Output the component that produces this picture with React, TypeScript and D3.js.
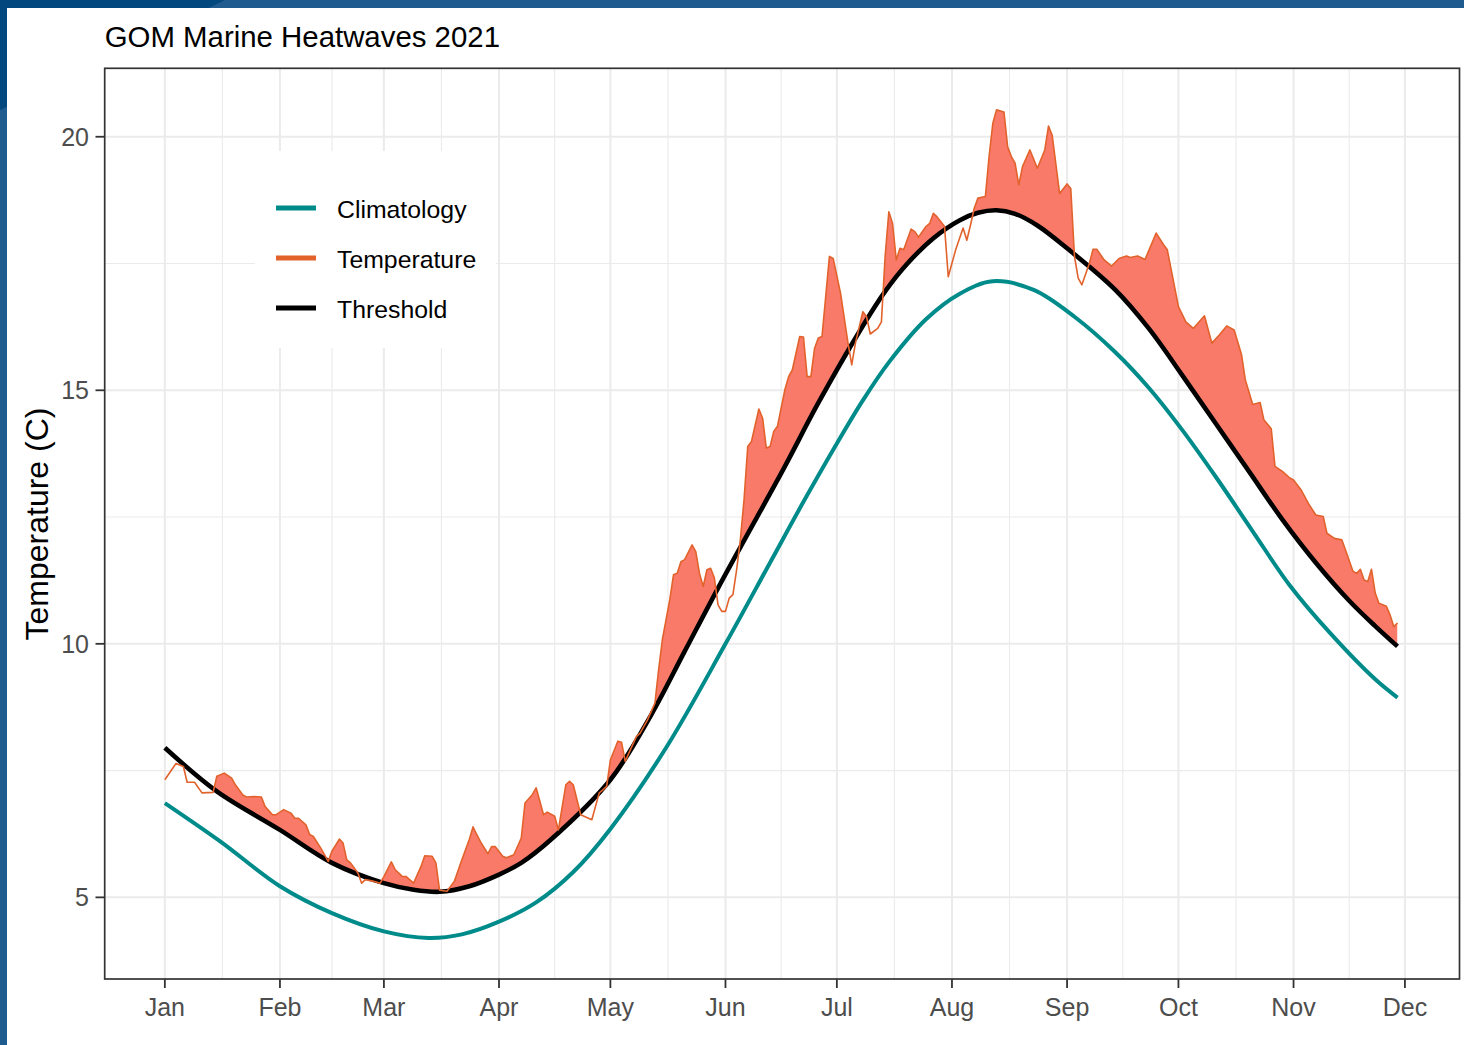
import React from 'react';
import * as d3 from 'd3';

const WIDTH = 1464;
const HEIGHT = 1045;
const FONT = "'Liberation Sans', Arial, Helvetica, sans-serif";

const title = 'GOM Marine Heatwaves 2021';
const yLabel = 'Temperature (C)';

// observed temperature, days after 1 Jan 2021
const tempDays = [
  0, 3, 5, 6, 8, 10, 13, 14, 16, 18, 19, 21, 22, 24, 26, 27, 29, 30, 32, 34, 35, 36, 38, 39, 40, 42, 44, 45, 47, 48,
  49, 50, 52, 53, 54, 56, 58, 59, 61, 62, 64, 65, 67, 69, 70, 72, 73, 74, 76, 78, 80, 82, 83, 84, 85, 87, 88, 89, 91, 92,
  94, 96, 97, 99, 100, 102, 103, 105, 106, 108, 109, 110, 112, 115, 117, 118, 119, 120, 122, 123, 124, 125, 127, 128, 130, 132, 133, 134, 136, 137,
  138, 139, 140, 142, 143, 144, 145, 146, 147, 148, 149, 150, 151, 152, 153, 154, 155, 156, 157, 158, 160, 161, 162, 163, 164, 165, 167, 168, 169, 171,
  172, 173, 174, 175, 176, 177, 179, 180, 182, 184, 185, 186, 188, 189, 190, 192, 193, 194, 195, 196, 197, 198, 199, 201, 202, 203, 205, 206, 207, 208,
  210, 211, 213, 215, 216, 217, 218, 219, 221, 222, 223, 224, 226, 227, 228, 229, 230, 231, 233, 235, 237, 238, 239, 241, 243, 244, 245, 246, 247, 249,
  250, 251, 253, 255, 257, 259, 260, 262, 264, 267, 269, 270, 273, 275, 277, 280, 282, 284, 286, 288, 290, 291, 293, 295, 296, 298, 299, 301, 303, 304,
  306, 308, 310, 312, 313, 315, 317, 318, 320, 321, 322, 323, 324, 325, 326, 327, 329, 330, 331, 332,
];
const tempValues = [
  7.32, 7.64, 7.58, 7.27, 7.27, 7.06, 7.07, 7.39, 7.45, 7.35, 7.22, 7.02, 6.98, 6.99, 6.98, 6.79, 6.63, 6.63, 6.73, 6.66, 6.56, 6.56, 6.43, 6.24, 6.2, 5.97, 5.71, 5.91, 6.15, 6.07,
  5.74, 5.68, 5.48, 5.28, 5.35, 5.32, 5.28, 5.41, 5.7, 5.55, 5.41, 5.41, 5.28, 5.61, 5.82, 5.81, 5.68, 5.14, 5.12, 5.32, 5.74, 6.14, 6.39, 6.24, 6.1, 5.86, 6.0, 6.0, 5.81, 5.78,
  5.84, 6.17, 6.86, 7.03, 7.16, 6.63, 6.68, 6.6, 6.33, 7.22, 7.29, 7.22, 6.63, 6.53, 7.06, 7.12, 7.19, 7.71, 8.08, 8.06, 7.68, 7.85, 8.17, 8.24, 8.5, 8.83, 9.49, 10.08, 10.87, 11.36,
  11.39, 11.62, 11.66, 11.95, 11.82, 11.39, 11.13, 11.46, 11.49, 11.3, 10.77, 10.64, 10.64, 10.9, 10.97, 11.46, 12.05, 12.84, 13.89, 13.99, 14.63, 14.45, 13.86, 13.89, 14.19, 14.29, 15.01, 15.27, 15.4, 16.06,
  16.05, 15.27, 15.27, 15.83, 16.03, 16.06, 17.64, 17.6, 16.91, 15.93, 15.5, 15.93, 16.55, 16.45, 16.11, 16.22, 16.35, 17.64, 18.52, 18.29, 17.57, 17.8, 17.77, 18.18, 18.13, 18.02, 18.23, 18.29, 18.49, 18.42,
  18.23, 17.24, 17.77, 18.2, 17.96, 18.26, 18.59, 18.79, 18.82, 19.61, 20.26, 20.53, 20.49, 19.8, 19.61, 19.48, 19.05, 19.41, 19.74, 19.38, 19.74, 20.21, 20.03, 18.88, 19.07, 18.98, 17.64, 17.21, 17.08, 17.5,
  17.78, 17.78, 17.57, 17.45, 17.6, 17.65, 17.62, 17.65, 17.58, 18.1, 17.87, 17.77, 16.65, 16.35, 16.22, 16.47, 15.93, 16.09, 16.27, 16.19, 15.7, 15.21, 14.72, 14.76, 14.42, 14.24, 13.5, 13.4, 13.27, 13.23,
  13.04, 12.77, 12.54, 12.51, 12.18, 12.08, 12.05, 11.85, 11.43, 11.39, 11.47, 11.26, 11.23, 11.47, 11.0, 10.8, 10.74, 10.57, 10.34, 10.41,
];

// 90th percentile threshold
const threshDays = [0, 14, 31, 45, 59, 67, 74, 82, 90, 96, 104, 120, 131, 140, 149, 158, 167, 176, 187, 194, 200, 207, 214, 219, 224, 229, 235, 243, 256, 265, 274, 283, 292, 301, 310, 319, 326, 332];
const threshValues = [7.95, 7.09, 6.33, 5.68, 5.28, 5.15, 5.11, 5.22, 5.45, 5.68, 6.14, 7.32, 8.6, 9.85, 11.1, 12.3, 13.5, 14.75, 16.15, 16.95, 17.5, 18.0, 18.35, 18.5, 18.55, 18.48, 18.25, 17.8, 16.98, 16.22, 15.3, 14.35, 13.4, 12.45, 11.6, 10.85, 10.35, 9.95];

// seasonal climatology
const climDays = [0, 15, 31, 45, 59, 71, 80, 90, 100, 110, 120, 135, 151, 163, 172, 181, 188, 195, 205, 214, 223, 234, 245, 256, 265, 274, 283, 293, 303, 314, 326, 332];
const climValues = [6.86, 6.1, 5.22, 4.69, 4.33, 4.2, 4.27, 4.52, 4.9, 5.5, 6.35, 7.95, 10.0, 11.6, 12.8, 13.95, 14.8, 15.55, 16.4, 16.9, 17.15, 16.98, 16.45, 15.75, 15.05, 14.22, 13.3, 12.22, 11.15, 10.2, 9.3, 8.94];

const yTicks = [5, 10, 15, 20];
const yMinorTicks = [7.5, 12.5, 17.5];
const monthLabels = ['Jan', 'Feb', 'Mar', 'Apr', 'May', 'Jun', 'Jul', 'Aug', 'Sep', 'Oct', 'Nov', 'Dec'];

const legendLabels = ['Climatology', 'Temperature', 'Threshold'];
const legendColors = ['#008b8b', '#e2622c', '#000000'];

const dayToDate = (d: number) => new Date(Date.UTC(2021, 0, 1) + d * 864e5);

export default function App() {
  const panel = { left: 104.7, right: 1459.5, top: 68.3, bottom: 979 };

  const x = d3.scaleUtc()
    .domain([dayToDate(-16.2), dayToDate(348.7)])
    .range([panel.left, panel.right]);
  const y = d3.scaleLinear()
    .domain([3.39, 21.35])
    .range([panel.bottom, panel.top]);

  const monthTicks = d3.utcMonth.range(dayToDate(0), dayToDate(335));
  const monthMinor = d3.pairs(monthTicks).map(([a, b]) => new Date((a.getTime() + b.getTime()) / 2));

  const temp = tempDays.map((d, i) => ({ date: dayToDate(d), value: tempValues[i] }));
  const thresh = threshDays.map((d, i) => ({ date: dayToDate(d), value: threshValues[i] }));
  const clim = climDays.map((d, i) => ({ date: dayToDate(d), value: climValues[i] }));

  const curve = d3.curveCatmullRom.alpha(0.5);
  const smooth = d3.line<{ date: Date; value: number }>()
    .x(d => x(d.date))
    .y(d => y(d.value))
    .curve(curve);
  const straight = d3.line<{ date: Date; value: number }>()
    .x(d => x(d.date))
    .y(d => y(d.value));

  // region above the threshold, used to clip the heatwave fill
  const aboveThresh = d3.area<{ date: Date; value: number }>()
    .x(d => x(d.date))
    .y0(0)
    .y1(d => y(d.value))
    .curve(curve);
  const tempArea = d3.area<{ date: Date; value: number }>()
    .x(d => x(d.date))
    .y0(HEIGHT)
    .y1(d => y(d.value));

  return (
    <svg width={WIDTH} height={HEIGHT} style={{ position: 'absolute', left: 0, top: 0 }} fontFamily={FONT}>
      <defs>
        <clipPath id="panel-clip">
          <rect x={panel.left} y={panel.top} width={panel.right - panel.left} height={panel.bottom - panel.top} />
        </clipPath>
        <clipPath id="above-thresh">
          <path d={aboveThresh(thresh) || ''} />
        </clipPath>
      </defs>

      {/* slide frame */}
      <rect x={0} y={0} width={WIDTH} height={HEIGHT} fill="#1f5b8e" />
      <polygon points="0,0 225,0 0,110" fill="#03477f" />
      <rect x={7} y={8} width={WIDTH - 7} height={HEIGHT - 8} fill="#ffffff" />

      <text x={panel.left} y={47} fontSize={29.4} fill="#000">{title}</text>

      {/* grid */}
      <g>
        {yMinorTicks.map(t => (
          <line key={'ym' + t} x1={panel.left} x2={panel.right} y1={y(t)} y2={y(t)} stroke="#ebebeb" strokeWidth={1.1} />
        ))}
        {monthMinor.map((t, i) => (
          <line key={'xm' + i} x1={x(t)} x2={x(t)} y1={panel.top} y2={panel.bottom} stroke="#ebebeb" strokeWidth={1.1} />
        ))}
        {yTicks.map(t => (
          <line key={'y' + t} x1={panel.left} x2={panel.right} y1={y(t)} y2={y(t)} stroke="#ebebeb" strokeWidth={2} />
        ))}
        {monthTicks.map((t, i) => (
          <line key={'x' + i} x1={x(t)} x2={x(t)} y1={panel.top} y2={panel.bottom} stroke="#ebebeb" strokeWidth={2} />
        ))}
      </g>

      <g clipPath="url(#panel-clip)">
        <g clipPath="url(#above-thresh)">
          <path d={tempArea(temp) || ''} fill="#fa7a6a" stroke="none" />
        </g>
        <path d={smooth(clim) || ''} fill="none" stroke={legendColors[0]} strokeWidth={4} />
        <path d={smooth(thresh) || ''} fill="none" stroke={legendColors[2]} strokeWidth={4.6} />
        <path d={straight(temp) || ''} fill="none" stroke={legendColors[1]} strokeWidth={1.6} strokeLinejoin="round" />
      </g>

      {/* legend */}
      <g>
        <rect x={255} y={151} width={241} height={197} fill="#ffffff" />
        {legendLabels.map((lab, i) => (
          <g key={lab} transform={`translate(0, ${208 + i * 50})`}>
            <line x1={276} x2={316} y1={0} y2={0} stroke={legendColors[i]} strokeWidth={5} />
            <text x={337} y={9.5} fontSize={24.8} fill="#000">{lab}</text>
          </g>
        ))}
      </g>

      <rect x={panel.left} y={panel.top} width={panel.right - panel.left} height={panel.bottom - panel.top}
        fill="none" stroke="#333333" strokeWidth={1.7} />

      {/* y axis */}
      <g>
        {yTicks.map(t => (
          <g key={t}>
            <line x1={95.5} x2={panel.left} y1={y(t)} y2={y(t)} stroke="#333333" strokeWidth={1.8} />
            <text x={89} y={y(t) + 9} fontSize={25} fill="#4d4d4d" textAnchor="end">{t}</text>
          </g>
        ))}
        <text transform={`translate(48, 524) rotate(-90)`} fontSize={32} fill="#000" textAnchor="middle">{yLabel}</text>
      </g>

      {/* x axis */}
      <g>
        {monthTicks.map((t, i) => (
          <g key={i}>
            <line x1={x(t)} x2={x(t)} y1={panel.bottom} y2={panel.bottom + 9} stroke="#333333" strokeWidth={1.8} />
            <text x={x(t)} y={1016} fontSize={25} fill="#4d4d4d" textAnchor="middle">{monthLabels[i]}</text>
          </g>
        ))}
      </g>
    </svg>
  );
}
